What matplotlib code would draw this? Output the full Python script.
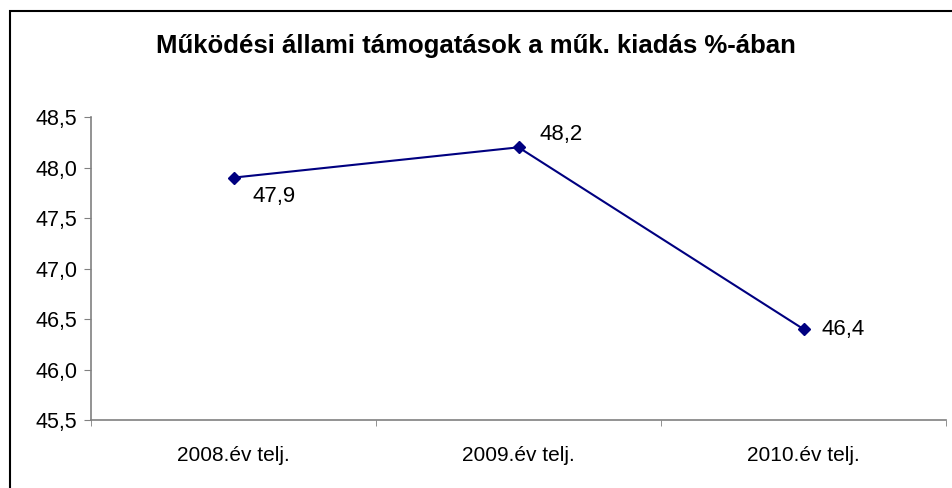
import matplotlib
matplotlib.use("Agg")
import matplotlib.pyplot as plt
from matplotlib.patches import Rectangle

categories = ["2008.év telj.", "2009.év telj.", "2010.év telj."]
values = [47.9, 48.2, 46.4]
value_labels = ["47,9", "48,2", "46,4"]
y_ticks = [45.5, 46.0, 46.5, 47.0, 47.5, 48.0, 48.5]
y_tick_labels = ["45,5", "46,0", "46,5", "47,0", "47,5", "48,0", "48,5"]
title = "Működési állami támogatások a műk. kiadás %-ában"

plt.rcParams["font.family"] = ["Liberation Sans", "DejaVu Sans"]

fig = plt.figure(figsize=(9.52, 4.88), dpi=100)
ax = fig.add_axes([0.0956, 0.1393, 0.8981, 0.6209])

x = list(range(len(categories)))
ax.plot(x, values, color="#000080", linewidth=1.5, marker="D", markersize=6.5,
        markerfacecolor="#000080", markeredgecolor="#000080")

# label offsets (points) as placed in the original
offsets = [(13.5, -13.5), (15, 9), (13, 0)]
for xi, v, lab, off in zip(x, values, value_labels, offsets):
    ax.annotate(lab, (xi, v), xytext=off, textcoords="offset points",
                ha="left", va="center", fontsize=16, color="black")

ax.set_xlim(-0.5, len(categories) - 0.5)
ax.set_ylim(45.5, 48.5)
ax.set_yticks(y_ticks)
ax.set_yticklabels(y_tick_labels, fontsize=15.5)
ax.set_xticks(x)
ax.set_xticklabels(categories, fontsize=15)
ax.set_xticks([-0.5, 0.5, 1.5, 2.5], minor=True)
ax.tick_params(axis="x", which="major", length=0, pad=19)
ax.tick_params(axis="x", which="minor", length=4, color="#808080", direction="out")
ax.tick_params(axis="y", length=5, color="#808080", direction="out", pad=5)

for side in ["top", "right"]:
    ax.spines[side].set_visible(False)
for side in ["left", "bottom"]:
    ax.spines[side].set_color("#808080")
    ax.spines[side].set_linewidth(1.2)

fig.text(0.5, 0.905, title, ha="center", va="center", fontsize=18.5,
         fontweight="bold")

# outer chart-area border (runs off the right and bottom edges)
fig.patches.append(Rectangle((10 / 952, -0.05), 1.0, 1 - 11 / 488 + 0.05,
                             transform=fig.transFigure, fill=False,
                             edgecolor="black", linewidth=1.5))

fig.savefig("out.png", dpi=100)
